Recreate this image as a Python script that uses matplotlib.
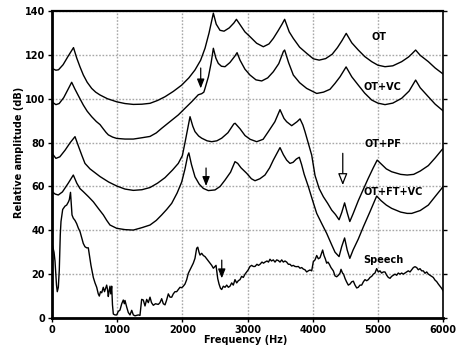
import matplotlib
matplotlib.use("Agg")
import matplotlib.pyplot as plt

plt.rcParams['font.family'] = ['DejaVu Sans']
plt.rcParams['font.weight'] = 'bold'

# ---- data (frequency in Hz, amplitude in dB) ----
ot_f = [0, 60, 100, 170, 250, 330, 380, 430, 481, 540, 609, 670, 737, 850, 993,
        1120, 1248, 1380, 1504, 1620, 1734, 1860, 1990, 2100, 2194, 2280, 2348,
        2410, 2476, 2520, 2578, 2640, 2720, 2790, 2830, 2885, 2960, 3038, 3140,
        3243, 3330, 3396, 3470, 3530, 3570, 3640, 3703, 3800, 3908, 4010, 4100,
        4200, 4300, 4380, 4450, 4515, 4600, 4700, 4800, 4906, 5000, 5110, 5230,
        5366, 5470, 5520, 5580, 5650, 5775, 5880, 6000]
ot_db = [113.8, 113.0, 113.2, 115.5, 119.5, 123.3, 118.5, 114.5, 110.8, 107.5,
         104.7, 103.0, 101.7, 100.0, 98.6, 97.8, 97.4, 97.5, 97.9, 99.2, 100.9,
         103.3, 106.2, 109.5, 113.1, 117.5, 123.0, 130.0, 139.0, 134.0, 131.2,
         130.8, 132.3, 134.5, 136.2, 133.8, 130.5, 128.3, 125.3, 123.7, 125.0,
         127.5, 131.0, 134.0, 136.2, 130.5, 127.5, 123.5, 120.7, 118.2, 117.6,
         118.3, 120.3, 123.3, 126.5, 129.8, 125.5, 122.2, 119.2, 116.9, 115.3,
         114.6, 115.0, 116.9, 119.0, 120.4, 122.2, 119.8, 116.9, 114.0, 111.3]

otvc_f = [0, 60, 110, 180, 250, 302, 350, 420, 481, 540, 609, 680, 737, 788, 830,
          865, 930, 993, 1120, 1248, 1380, 1504, 1600, 1683, 1800, 1938, 2040,
          2143, 2245, 2297, 2330, 2348, 2400, 2440, 2476, 2515, 2552, 2600, 2655,
          2730, 2808, 2840, 2885, 2960, 3038, 3130, 3218, 3310, 3396, 3480, 3550,
          3570, 3630, 3703, 3800, 3908, 4062, 4166, 4266, 4343, 4420, 4513, 4600,
          4700, 4800, 4906, 5000, 5110, 5230, 5366, 5480, 5580, 5650, 5775, 5880,
          6000]
otvc_db = [98.5, 97.3, 97.8, 100.5, 104.5, 107.5, 104.5, 100.5, 97.1, 94.3, 91.8,
           89.6, 88.2, 86.2, 84.6, 83.5, 82.5, 81.9, 81.6, 81.6, 82.2, 82.8, 84.4,
           86.5, 89.3, 92.6, 95.6, 98.6, 101.8, 102.3, 103.0, 104.7, 110.0, 116.0,
           123.0, 118.5, 116.1, 114.8, 114.6, 116.5, 119.5, 121.0, 117.6, 113.5,
           110.8, 108.6, 108.1, 109.5, 112.3, 116.0, 121.5, 122.2, 116.5, 110.8,
           107.3, 104.7, 102.4, 103.0, 104.3, 107.0, 110.0, 114.5, 110.0, 106.2,
           102.5, 99.4, 98.0, 97.3, 98.0, 100.2, 103.5, 108.5, 105.0, 100.9, 97.5,
           94.5]

otpf_f = [0, 60, 120, 200, 280, 353, 410, 460, 506, 583, 737, 870, 993, 1120,
          1248, 1380, 1504, 1620, 1734, 1850, 1938, 2000, 2041, 2080, 2118, 2160,
          2194, 2250, 2297, 2380, 2451, 2530, 2604, 2700, 2790, 2810, 2885, 2962,
          3040, 3141, 3240, 3320, 3420, 3499, 3560, 3601, 3678, 3760, 3806, 3850,
          3882, 3935, 3985, 4036, 4100, 4164, 4230, 4292, 4350, 4405, 4445, 4490,
          4530, 4570, 4620, 4700, 4752, 4850, 4930, 4990, 5060, 5130, 5212, 5350,
          5450, 5550, 5650, 5775, 5880, 5980, 6000]
otpf_db = [75.1, 72.8, 73.5, 76.5, 80.0, 82.7, 78.0, 74.0, 70.5, 68.0, 64.5, 62.0,
           60.2, 58.8, 58.2, 58.5, 59.5, 61.5, 64.0, 67.5, 70.5, 74.0, 80.0, 86.0,
           91.8, 87.5, 85.0, 83.0, 82.0, 80.8, 80.4, 80.8, 82.0, 84.5, 88.5, 88.8,
           86.3, 83.2, 81.5, 80.4, 81.5, 85.0, 89.5, 95.0, 91.0, 89.5, 87.7, 89.5,
           90.8, 88.0, 85.0, 79.5, 74.3, 65.0, 59.0, 55.3, 52.3, 49.2, 47.2, 44.8,
           48.0, 52.5, 48.0, 44.0, 47.5, 53.5, 57.0, 63.5, 68.5, 72.0, 70.0, 68.0,
           66.7, 65.5, 65.2, 65.5, 67.0, 69.5, 73.0, 76.6, 77.2]

otftvc_f = [0, 50, 97, 160, 250, 327, 380, 430, 481, 560, 634, 710, 788, 840, 890,
            993, 1120, 1248, 1380, 1504, 1600, 1683, 1760, 1837, 1920, 1990, 2041,
            2082, 2100, 2140, 2194, 2260, 2322, 2399, 2501, 2580, 2655, 2740, 2808,
            2850, 2900, 2987, 3060, 3115, 3190, 3268, 3340, 3396, 3450, 3499, 3550,
            3601, 3652, 3700, 3750, 3795, 3830, 3870, 3933, 4000, 4062, 4140, 4215,
            4290, 4343, 4405, 4445, 4490, 4530, 4570, 4620, 4700, 4778, 4880, 4982,
            5050, 5130, 5212, 5350, 5450, 5520, 5650, 5775, 5877, 5980, 6000]
otftvc_db = [57.6, 56.5, 56.1, 57.5, 61.5, 65.2, 61.5, 59.0, 57.6, 55.3, 53.0, 50.0,
             47.0, 44.5, 42.4, 40.9, 40.3, 40.1, 41.2, 42.4, 44.5, 47.0, 49.5, 52.3,
             57.0, 62.0, 68.0, 74.0, 75.3, 70.0, 64.4, 61.0, 59.1, 58.1, 58.4, 60.0,
             62.9, 66.5, 71.3, 70.5, 68.5, 66.0, 63.5, 62.6, 63.5, 65.2, 68.5, 72.0,
             75.0, 77.7, 74.5, 72.0, 70.5, 71.0, 72.5, 73.3, 70.0, 65.5, 60.0, 53.5,
             47.7, 43.0, 38.6, 33.5, 30.0, 28.0, 32.5, 36.5, 31.0, 27.2, 31.0, 36.0,
             41.6, 48.5, 55.6, 53.5, 51.5, 50.0, 48.3, 47.7, 47.7, 49.0, 51.5, 55.3,
             59.1, 60.0]

speech_f = [0, 11, 31, 46, 69, 81, 97, 112, 127, 138, 164, 199, 225, 253, 266, 284,
            295, 307, 327, 353, 379, 404, 430, 456, 480, 506, 532, 557, 575, 598,
            634, 660, 686, 710, 726, 744, 763, 787, 806, 839, 852, 864, 875, 890,
            902, 916, 928, 941, 967, 993, 1017, 1043, 1070, 1094, 1110, 1120, 1146,
            1171, 1197, 1223, 1248, 1274, 1324, 1350, 1376, 1401, 1427, 1453, 1478,
            1504, 1527, 1555, 1588, 1631, 1657, 1683, 1708, 1734, 1757, 1785, 1811,
            1837, 1861, 1887, 1913, 1938, 1964, 1990, 2015, 2041, 2067, 2092, 2118,
            2143, 2168, 2194, 2220, 2237, 2256, 2271, 2297, 2322, 2348, 2374, 2399,
            2425, 2451, 2476, 2501, 2517, 2543, 2563, 2586, 2604, 2629, 2655, 2681,
            2706, 2731, 2757, 2782, 2808, 2834, 2859, 2885, 2910, 2936, 2962, 2987,
            3012, 3038, 3064, 3089, 3115, 3145, 3169, 3192, 3222, 3246, 3268, 3299,
            3322, 3345, 3368, 3396, 3422, 3448, 3473, 3499, 3525, 3550, 3575, 3601,
            3627, 3652, 3678, 3703, 3729, 3755, 3780, 3806, 3832, 3857, 3882, 3908,
            3933, 3959, 3985, 4010, 4036, 4062, 4087, 4113, 4136, 4153, 4174, 4194,
            4215, 4235, 4256, 4281, 4317, 4343, 4369, 4395, 4420, 4435, 4458, 4474,
            4497, 4520, 4547, 4574, 4599, 4624, 4650, 4676, 4700, 4726, 4752, 4778,
            4803, 4829, 4854, 4880, 4906, 4931, 4956, 4982, 5007, 5033, 5059, 5084,
            5110, 5136, 5161, 5187, 5212, 5237, 5263, 5289, 5314, 5340, 5366, 5391,
            5417, 5443, 5467, 5494, 5520, 5545, 5570, 5596, 5621, 5647, 5673, 5698,
            5724, 5750, 5775, 5800, 5826, 5851, 5877, 5903, 5928, 5954, 5980, 6000]
speech_db = [34, 32.5, 30, 26, 15, 12, 14, 22, 38, 44, 49.5, 51, 51.5, 53, 54, 57.3,
             52, 47, 45.5, 44.5, 43, 41, 39.4, 36.5, 34, 32.5, 32, 32, 28.5, 24,
             18.5, 16, 14, 11, 10, 12, 11.5, 14, 12, 15, 13, 9.8, 12, 14.5,
             11, 14.5, 6, 1.8, 1.4, 1.4, 3, 3.6, 6.5, 8.2, 6.5, 8, 5,
             2.5, 1.4, 3.5, 1.4, 1, 1.4, 1.2, 8.5, 8.2, 5.5, 8.5, 7,
             9.5, 7, 5.8, 6.5, 6.2, 7, 8.8, 6.5, 6, 8, 11, 9.5,
             9.5, 11, 12, 12, 13, 14, 13.8, 14.5, 15.5, 17.5, 20.4, 22,
             23.5, 25, 27.2, 31.8, 32.3, 30, 28.7, 29.5, 28.5, 28, 27, 26,
             25, 24, 22.7, 23.5, 24, 18, 15.5, 13.5, 13, 14.5, 14, 15,
             14, 14.5, 16, 15, 17.5, 16, 17, 17.5, 19, 18.5, 20, 21,
             22, 23.5, 24, 23.5, 23.5, 24.5, 24, 24.5, 25.5, 25, 25.5, 26,
             25.5, 26.8, 26, 26.5, 25.5, 26.5, 26.2, 25.5, 26.5, 25.5, 26, 25.5,
             24.5, 24.5, 23.7, 24, 23.5, 23.4, 23.5, 22.7, 23, 22.3, 22, 21,
             21.5, 21.9, 21.5, 25.7, 26.5, 28.5, 27, 27.5, 29.5, 31, 28.5, 27,
             25, 25.5, 24.5, 23, 21.5, 19.2, 18.8, 19.5, 20.5, 22.2, 20.5, 20,
             18, 16.5, 15, 15.5, 16.5, 16.8, 15, 13.7, 14, 15, 15, 16.5,
             17.5, 17, 17.5, 18.5, 19, 20, 20.5, 22.5, 21, 21.5, 20.5, 21,
             21, 19.5, 18.5, 18.1, 19, 19.5, 20, 19.5, 20.5, 20, 20.5, 20,
             20.5, 21, 21.5, 21, 22, 23, 23.4, 23, 22, 22.5, 21.5, 21.5,
             20.4, 21, 20, 19.5, 19, 18.5, 17.3, 16.6, 15.5, 14.5, 13.5, 12.5]

labels = ['OT', 'OT+VC', 'OT+PF', 'OT+FT+VC', 'Speech']
label_f = [5025, 5075, 5075, 5240, 5085]
label_db = [128, 105.5, 79.2, 57.6, 26.4]

# arrows: (freq, from dB, to dB)
black_arrows = [(2282, 114.0, 104.7), (2364, 68.4, 60.2), (2605, 26.4, 18.1)]
open_arrow = (4462, 75.1, 60.6)

# ---- plot ----
fig = plt.figure(figsize=(4.61, 3.45), dpi=100)
ax = fig.add_axes([52 / 461, 27 / 345, 391 / 461, 307 / 345])

for f, d in [(ot_f, ot_db), (otvc_f, otvc_db), (otpf_f, otpf_db),
             (otftvc_f, otftvc_db), (speech_f, speech_db)]:
    ax.plot(f, d, color='black', lw=1.0)

for name, x, y in zip(labels, label_f, label_db):
    ax.text(x, y, name, ha='center', va='center', fontsize=7, fontweight='bold')

for x, y0, y1 in black_arrows:
    ax.annotate('', xy=(x, y1), xytext=(x, y0),
                arrowprops=dict(arrowstyle='-|>,head_length=0.55,head_width=0.22',
                                color='black', lw=0.9, shrinkA=0, shrinkB=0))
x, y0, y1 = open_arrow
ax.annotate('', xy=(x, y1), xytext=(x, y0),
            arrowprops=dict(arrowstyle='-|>,head_length=0.7,head_width=0.28',
                            fc='white', ec='black', lw=0.9, shrinkA=0, shrinkB=0))

ax.set_xlim(0, 6000)
ax.set_ylim(0, 140)
ax.set_xticks(range(0, 6001, 1000))
ax.set_yticks(range(0, 141, 20))
ax.grid(True, color='#a8a8a8', linestyle=(0, (1.2, 1.2)), lw=1.0)
ax.tick_params(labelsize=7, length=3, width=1, right=True, pad=2)
for lab in ax.get_xticklabels() + ax.get_yticklabels():
    lab.set_fontweight('bold')

ax.spines['left'].set_linewidth(2)
ax.spines['bottom'].set_linewidth(2)
ax.spines['right'].set_linewidth(1.2)
ax.spines['top'].set_linewidth(1.6)
ax.spines['top'].set_linestyle((0, (2, 1)))

ax.set_xlabel('Frequency (Hz)', fontsize=7, fontweight='bold')
ax.xaxis.set_label_coords(0.496, -0.056)
ax.set_ylabel('Relative amplitude (dB)', fontsize=7, fontweight='bold')
ax.yaxis.set_label_coords(-0.072, 0.54)

fig.savefig('out.png', dpi=100)
